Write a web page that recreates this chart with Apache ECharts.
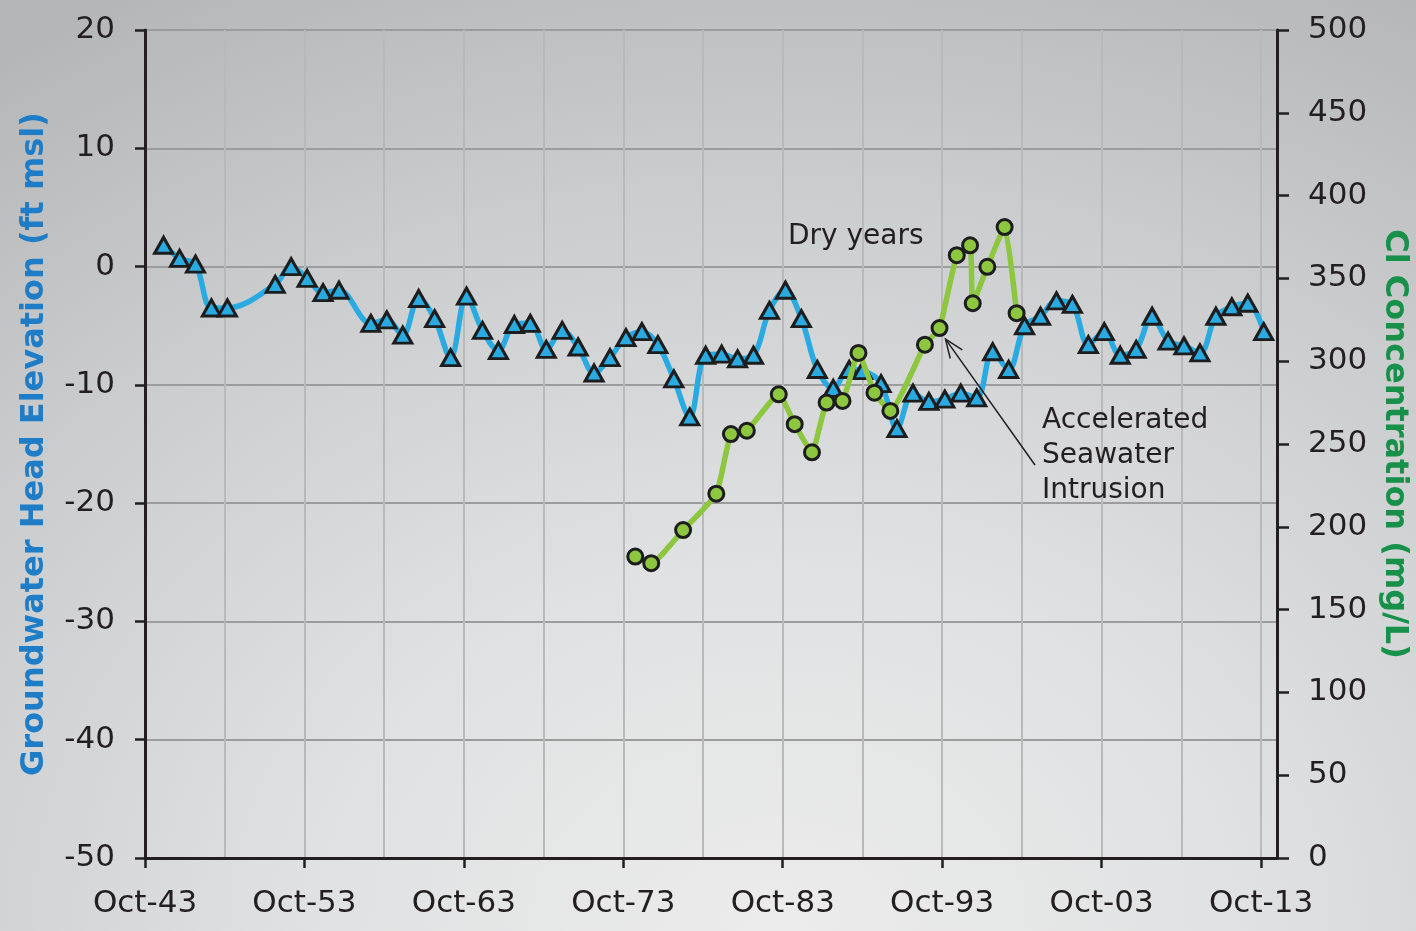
<!DOCTYPE html>
<html>
<head>
<meta charset="utf-8">
<title>Groundwater Head Elevation and Cl Concentration</title>
<script src="https://cdn.jsdelivr.net/npm/echarts@6/dist/echarts.min.js"></script>
<style>
  html, body { margin: 0; padding: 0; width: 1416px; height: 931px; overflow: hidden; }
  body {
    background: radial-gradient(ellipse 95% 115% at 55% 100%, #ececec 0%, #e0e1e2 35%, #cbcccd 70%, #b5b6b7 100%);
  }
  #chart { width: 1416px; height: 931px; }
</style>
</head>
<body>
<div id="chart"></div>
<script>
// Groundwater head elevation (ft msl), one reading per date
const headDates = [
  '1944-12', '1945-12', '1946-12', '1947-12', '1948-12', '1951-12', '1952-12', '1953-12',
  '1954-12', '1955-12', '1957-12', '1958-12', '1959-12', '1960-12', '1961-12', '1962-12',
  '1963-12', '1964-12', '1965-12', '1966-12', '1967-12', '1968-12', '1969-12', '1970-12',
  '1971-12', '1972-12', '1973-12', '1974-12', '1975-12', '1976-12', '1977-12', '1978-12',
  '1979-12', '1980-12', '1981-12', '1982-12', '1983-12', '1984-12', '1985-12', '1986-12',
  '1987-12', '1988-10', '1989-12', '1990-12', '1991-12', '1992-12', '1993-12', '1994-12',
  '1995-12', '1996-12', '1997-12', '1998-12', '1999-12', '2000-12', '2001-12', '2002-12',
  '2003-12', '2004-12', '2005-12', '2006-12', '2007-12', '2008-12', '2009-12', '2010-12',
  '2011-12', '2012-12', '2013-12'
];
const headValues = [
  1.8, 0.7, 0.2, -3.5, -3.5, -1.5, 0.0, -1.0,
  -2.2, -2.0, -4.8, -4.5, -5.8, -2.7, -4.4, -7.7,
  -2.5, -5.4, -7.1, -4.9, -4.8, -7.0, -5.4, -6.8,
  -9.0, -7.7, -6.0, -5.5, -6.6, -9.5, -12.7, -7.5,
  -7.4, -7.8, -7.5, -3.7, -2.0, -4.4, -8.7, -10.3,
  -8.7, -8.8, -9.9, -13.7, -10.7, -11.4, -11.2, -10.7,
  -11.1, -7.2, -8.7, -5.0, -4.2, -2.9, -3.2, -6.6,
  -5.5, -7.5, -7.0, -4.2, -6.3, -6.7, -7.3, -4.2,
  -3.4, -3.1, -5.5
];

// Chloride concentration (mg/L)
const clDates = [
  '1974-07', '1975-07', '1977-07', '1979-08', '1980-07', '1981-07', '1983-07', '1984-07',
  '1985-08', '1986-07', '1987-07', '1988-07', '1989-07', '1990-07', '1992-09', '1993-08',
  '1994-09', '1995-07', '1995-09', '1996-08', '1997-09', '1998-06'
];
const clValues = [
  182, 178, 198, 220, 256, 258, 280, 262,
  245, 275, 276, 305, 281, 270, 310, 320,
  364, 370, 335, 357, 381, 329
];

// Axis ranges and tick steps
const headTicks = { min: -50, max: 20, step: 10 };
const clTicks = { min: 0, max: 500, step: 50 };
const xSpanYears = 71;          // Oct-1943 through Sep-2014
const xLabelStep = 10;
const xGridStep = 5;

// Dates are placed as years elapsed since October 1943
function yearsSinceOct43(d) {
  const [y, m] = d.split('-').map(Number);
  return (y - 1943) + (m - 10) / 12;
}
function octLabel(v) {
  const yy = (43 + Math.round(v)) % 100;
  return 'Oct-' + String(yy).padStart(2, '0');
}

const headData = headDates.map((d, i) => [yearsSinceOct43(d), headValues[i]]);
const clData = clDates.map((d, i) => [yearsSinceOct43(d), clValues[i]]);

const FONT = 'DejaVu Sans';
const INK = '#231f20';

const chart = echarts.init(document.getElementById('chart'), null, { renderer: 'canvas' });

const option = {
  backgroundColor: 'transparent',
  animation: false,
  grid: { left: 145, right: 139, top: 30, bottom: 73, containLabel: false, outerBoundsMode: 'none' },
  xAxis: [
    {
      type: 'value', min: 0, max: xSpanYears, interval: xGridStep,
      axisLine: { show: false },
      axisTick: { show: false },
      axisLabel: { show: false },
      splitLine: { show: true, lineStyle: { color: '#b9b9b9', width: 2 } }
    },
    {
      type: 'value', min: 0, max: xSpanYears, interval: xLabelStep, position: 'bottom',
      axisLine: { show: true, onZero: false, lineStyle: { color: INK, width: 3 } },
      axisTick: { show: true, inside: false, length: 10, lineStyle: { color: INK, width: 2.5 } },
      axisLabel: {
        show: true, margin: 30, showMaxLabel: false,
        fontFamily: FONT, fontSize: 31, color: INK,
        formatter: octLabel
      },
      splitLine: { show: false }
    }
  ],
  yAxis: [
    {
      type: 'value', min: headTicks.min, max: headTicks.max, interval: headTicks.step,
      position: 'left',
      name: 'Groundwater Head Elevation (ft msl)',
      nameLocation: 'middle', nameGap: 94, nameRotate: 90,
      nameTextStyle: { fontFamily: FONT, fontSize: 32, fontWeight: 'bold', color: '#1f7dc7' },
      axisLine: { show: true, onZero: false, lineStyle: { color: INK, width: 3 } },
      axisTick: { show: true, inside: false, length: 10, lineStyle: { color: INK, width: 2.5 } },
      axisLabel: { margin: 30, fontFamily: FONT, fontSize: 31, color: INK },
      splitLine: { show: true, lineStyle: { color: '#9c9c9c', width: 2 } }
    },
    {
      type: 'value', min: clTicks.min, max: clTicks.max, interval: clTicks.step,
      position: 'right',
      name: 'Cl Concentration (mg/L)',
      nameLocation: 'middle', nameGap: 97, nameRotate: -90,
      nameTextStyle: { fontFamily: FONT, fontSize: 32, fontWeight: 'bold', color: '#17904a' },
      axisLine: { show: true, onZero: false, lineStyle: { color: INK, width: 3 } },
      axisTick: { show: true, inside: false, length: 12, lineStyle: { color: INK, width: 2.5 } },
      axisLabel: { margin: 31, fontFamily: FONT, fontSize: 31, color: INK },
      splitLine: { show: false }
    }
  ],
  series: [
    {
      name: 'Groundwater Head',
      type: 'line',
      xAxisIndex: 0, yAxisIndex: 0,
      data: headData,
      smooth: 0.35,
      symbol: 'triangle',
      symbolSize: [18, 16],
      lineStyle: { color: '#29abe2', width: 5.5 },
      itemStyle: { color: '#29abe2', borderColor: '#1d1d1d', borderWidth: 3 },
      z: 3
    },
    {
      name: 'Cl Concentration',
      type: 'line',
      xAxisIndex: 0, yAxisIndex: 1,
      data: clData,
      smooth: 0.15,
      symbol: 'circle',
      symbolSize: 15,
      lineStyle: { color: '#8dc63f', width: 5.5 },
      itemStyle: { color: '#8dc63f', borderColor: '#1d1d1d', borderWidth: 3 },
      z: 4
    }
  ]
};

chart.setOption(option);

// Annotation text and the arrow that points at the 1993 chloride reading
const noteStyle = { fontFamily: FONT, fontSize: 28, fill: INK };
const arrowTarget = chart.convertToPixel({ xAxisIndex: 0, yAxisIndex: 1 }, clData[15]);
const arrowTail = [1035, 465];
const tip = [arrowTarget[0] + 6, arrowTarget[1] + 11];
const ang = Math.atan2(arrowTail[1] - tip[1], arrowTail[0] - tip[0]);
const headLen = 20, spread = 0.38;
const wing1 = [tip[0] + headLen * Math.cos(ang + spread), tip[1] + headLen * Math.sin(ang + spread)];
const wing2 = [tip[0] + headLen * Math.cos(ang - spread), tip[1] + headLen * Math.sin(ang - spread)];

chart.setOption({
  graphic: [
    { type: 'text', left: 788, top: 223, z: 10, style: Object.assign({ text: 'Dry years' }, noteStyle) },
    { type: 'text', left: 1042, top: 407, z: 10, style: Object.assign({ text: 'Accelerated' }, noteStyle) },
    { type: 'text', left: 1042, top: 442, z: 10, style: Object.assign({ text: 'Seawater' }, noteStyle) },
    { type: 'text', left: 1042, top: 477, z: 10, style: Object.assign({ text: 'Intrusion' }, noteStyle) },
    {
      type: 'line', z: 10,
      shape: { x1: arrowTail[0], y1: arrowTail[1], x2: tip[0], y2: tip[1] },
      style: { stroke: INK, lineWidth: 1.5 }
    },
    {
      type: 'polyline', z: 10,
      shape: { points: [wing1, tip, wing2] },
      style: { stroke: INK, lineWidth: 1.5, fill: null }
    }
  ]
});
</script>
</body>
</html>
